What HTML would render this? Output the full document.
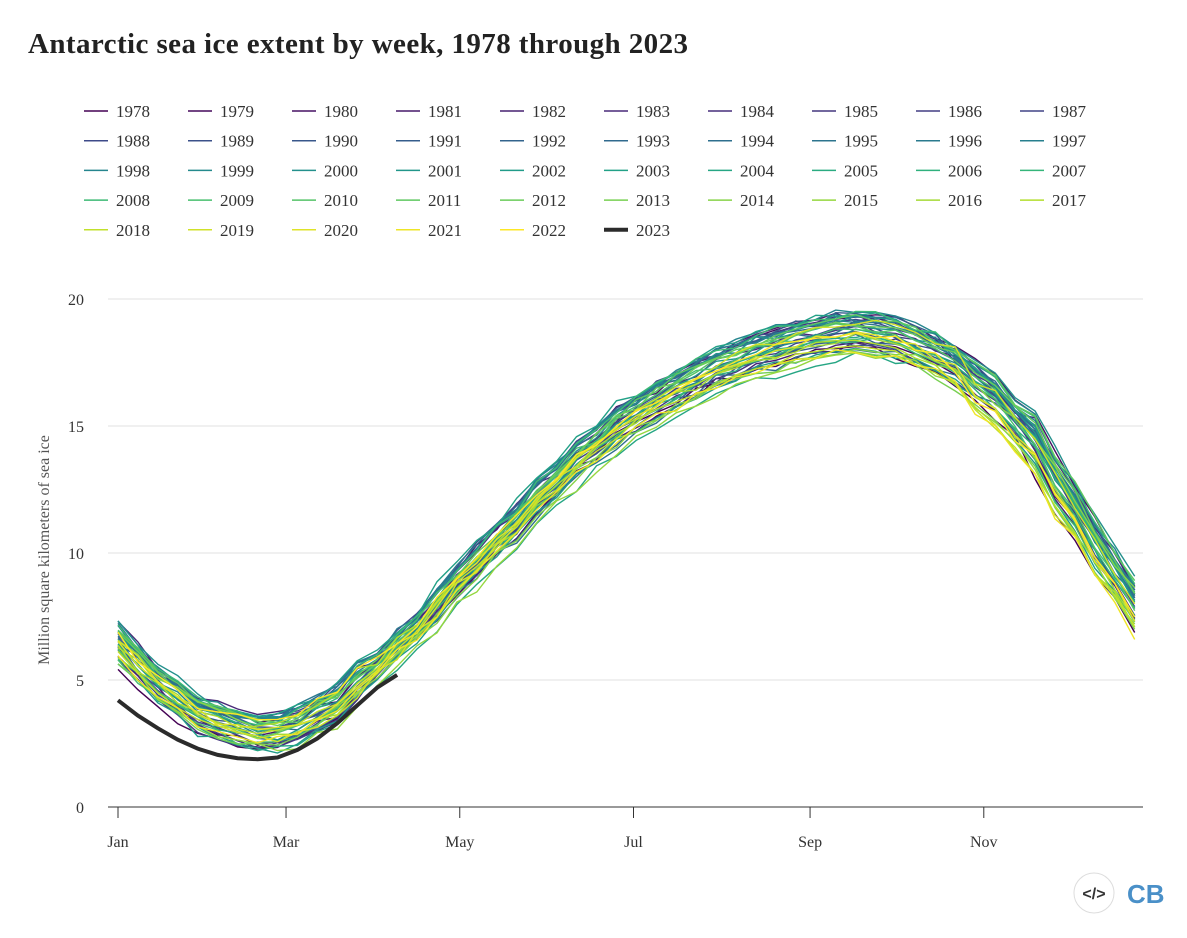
<!DOCTYPE html>
<html><head><meta charset="utf-8"><style>
body{margin:0;background:#fff;width:1187px;height:933px;overflow:hidden;font-family:"Liberation Serif",serif;}
</style></head><body>
<svg id="s" width="1187" height="933" xmlns="http://www.w3.org/2000/svg" font-family="Liberation Serif, serif">
<text x="28" y="53" font-size="29" font-weight="bold" fill="#222" textLength="660">Antarctic sea ice extent by week, 1978 through 2023</text>
<g id="leg"></g>
<g id="grid" stroke="#e2e2e2" stroke-width="1"></g>
<g id="lines" fill="none" stroke-width="1.4"></g>
<line x1="108" y1="807" x2="1143" y2="807" stroke="#333" stroke-width="1"/>
<g id="ax" font-size="16" fill="#333"></g>
<text transform="translate(49,550) rotate(-90)" text-anchor="middle" font-size="16" fill="#555">Million square kilometers of sea ice</text>
<circle cx="1094" cy="893" r="20" fill="#fff" stroke="#ddd"/>
<text x="1094" y="899" text-anchor="middle" font-family="Liberation Sans, sans-serif" font-size="16" font-weight="bold" fill="#333">&lt;/&gt;</text>
<text x="1127" y="903" font-family="Liberation Sans, sans-serif" font-size="26" font-weight="bold" fill="#4a90c8">CB</text>
</svg>
<script>
const NS="http://www.w3.org/2000/svg";
function el(t,a,p,txt){const e=document.createElementNS(NS,t);for(const k in a)e.setAttribute(k,a[k]);if(txt)e.textContent=txt;p.appendChild(e);return e;}
const vir=[[68,1,84],[72,40,120],[62,73,137],[49,104,142],[38,130,142],[31,158,137],[53,183,121],[109,205,89],[180,222,44],[253,231,37]];
function col(t){const f=t*9,i=Math.min(8,Math.floor(f)),r=f-i,a=vir[i],b=vir[i+1];return `rgb(${a.map((v,k)=>Math.round(v+(b[k]-v)*r)).join(",")})`;}
const leg=document.getElementById("leg");
for(let i=0;i<46;i++){const y=1978+i,c=i%10,r=Math.floor(i/10);const x=84+c*104,yy=111+r*29.7;
const cc=y==2023?"#2b2b2b":col(i/44);
el("line",{x1:x,y1:yy,x2:x+24,y2:yy,stroke:cc,"stroke-width":y==2023?4:1.5},leg);
el("text",{x:x+32,y:yy+6,"font-size":17,fill:"#333"},leg,String(y));}
const grid=document.getElementById("grid"),ax=document.getElementById("ax");
const Y=v=>807-v*25.4, X=d=>118+d*2.848;
[0,5,10,15,20].forEach(v=>{if(v>0)el("line",{x1:108,y1:Y(v),x2:1143,y2:Y(v)},grid);el("text",{x:84,y:Y(v)+6,"text-anchor":"end"},ax,String(v));});
[["Jan",0],["Mar",59],["May",120],["Jul",181],["Sep",243],["Nov",304]].forEach(([m,d])=>{el("line",{x1:X(d),y1:807,x2:X(d),y2:818,stroke:"#333"},ax);el("text",{x:X(d),y:847,"text-anchor":"middle"},ax,m);});
const kd=[0,14,31,50,59,74,91,105,120,135,152,166,181,196,212,227,243,258,273,288,304,319,334,349,360];
const kv=[6.5,4.8,3.5,2.9,3.0,3.8,5.5,7.0,8.9,10.6,12.6,14.1,15.4,16.4,17.3,17.9,18.4,18.7,18.5,17.8,16.6,14.9,12.1,9.4,7.6];
function base(d){for(let i=0;i<kd.length-1;i++)if(d<=kd[i+1]){const t=(d-kd[i])/(kd[i+1]-kd[i]);const s=t*t*(3-2*t);return kv[i]+(kv[i+1]-kv[i])*(t*0.5+s*0.5);}return kv[kv.length-1];}
let seed=7;const rnd=()=>{seed=(seed*16807)%2147483647;return seed/2147483647;};
const lines=document.getElementById("lines");
for(let i=0;i<45;i++){const off=(rnd()-0.5)*1.0,sh=(rnd()-0.5)*6,amp=1+(rnd()-0.5)*0.08;let p="";
for(let w=0;w<52;w++){const d=w*7;let v=base(d+sh)*amp+off*(d<90||d>320?1.3:0.6)+(rnd()-0.5)*0.35;if(i>36&&d>300)v-=0.6;
p+=(w?"L":"M")+X(d).toFixed(1)+","+Y(v).toFixed(1);}
el("path",{d:p,stroke:col(i/44)},lines);}
const v23=[4.2,3.6,3.1,2.65,2.3,2.05,1.92,1.88,1.95,2.25,2.7,3.3,4.0,4.7,5.2];
let p="";v23.forEach((v,w)=>p+=(w?"L":"M")+X(w*7).toFixed(1)+","+Y(v).toFixed(1));
el("path",{d:p,stroke:"#2b2b2b","stroke-width":4},lines);
</script>
</body></html>
